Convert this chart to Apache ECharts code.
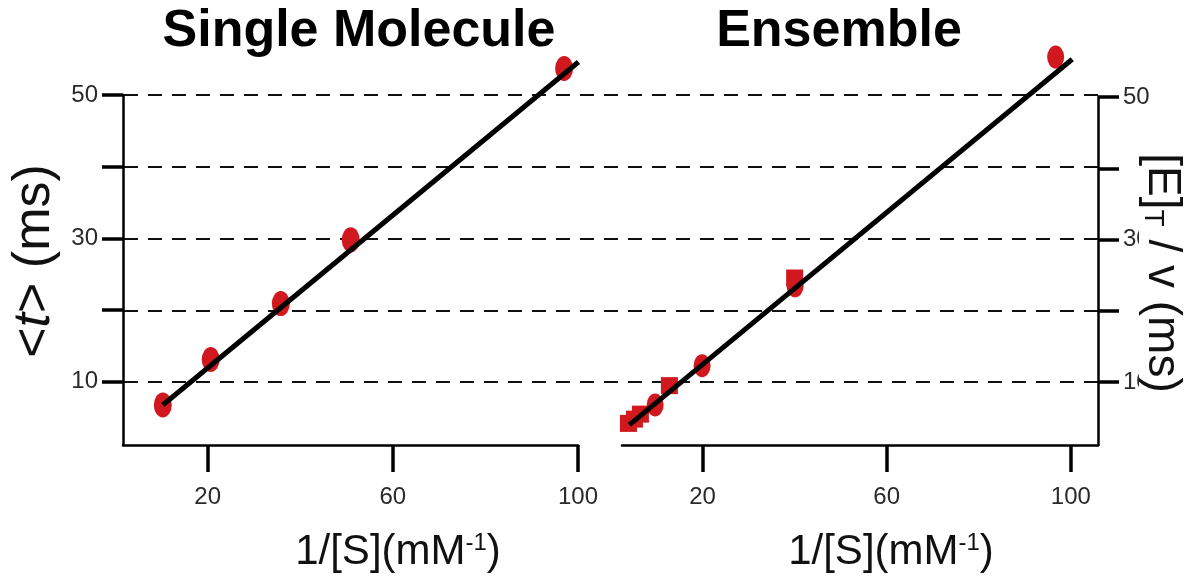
<!DOCTYPE html>
<html>
<head>
<meta charset="utf-8">
<script src="https://cdn.jsdelivr.net/npm/echarts@6/dist/echarts.min.js"></script>
<style>html,body{margin:0;padding:0;background:#fff}#c{width:1186px;height:577px}</style>
</head>
<body>
<div id="c"></div>
<script>
// ---- data ----
const titles = ['Single Molecule', 'Ensemble'];
const xTickValues = [20, 60, 100];
const yTickValues = [10, 20, 30, 40, 50];
const yLabelValues = [10, 30, 50];
// Single molecule: [1/[S], <t>]
const smPoints = [[10.3, 6.75], [20.65, 13.1], [35.8, 20.9], [50.9, 29.8], [97.0, 53.7]];
const smFit = [[10.3, 6.75], [100.1, 54.6]];
// Ensemble
const enCircles = [[9.7, 6.8], [19.9, 12.3], [40.1, 23.5], [96.7, 55.6]];
const enSquares = [[3.9, 4.2], [5.2, 4.8], [6.5, 5.5], [12.8, 9.5], [40.0, 24.6]];
const enFit = [[4.1, 4.0], [100.3, 55.3]];

const FONT = '"Liberation Sans", Arial, sans-serif';
const RED = '#d0181e';

const chart = echarts.init(document.getElementById('c'), null, {renderer: 'canvas'});

function xAxisCfg(gridIndex, min, max) {
  return {
    type: 'value', gridIndex, min, max,
    axisLine: {show: true, onZero: false, lineStyle: {color: '#000', width: 2.5}},
    axisTick: {show: true, customValues: xTickValues, length: 27, lineStyle: {color: '#000', width: 3.5}},
    axisLabel: {show: true, customValues: xTickValues, margin: 40, fontSize: 24, color: '#2a2a2a', fontFamily: FONT},
    splitLine: {show: false}
  };
}
function yAxisCfg(gridIndex, position, extra) {
  return Object.assign({
    type: 'value', gridIndex, position, min: 1.17, max: 50,
    axisLine: {show: true, onZero: false, lineStyle: {color: '#000', width: 2.5}},
    axisTick: {show: true, customValues: yTickValues, length: 21, lineStyle: {color: '#000', width: 3.5}},
    axisLabel: {show: true, customValues: yLabelValues, margin: 25, fontSize: 24, color: '#2a2a2a', fontFamily: FONT},
    splitLine: {show: false}
  }, extra);
}

const option = {
  backgroundColor: '#fff',
  animation: false,
  grid: [
    {left: 123, top: 95, width: 455, height: 350, outerBoundsMode: 'none', containLabel: false},
    {left: 622, top: 97, width: 476, height: 348, outerBoundsMode: 'none', containLabel: false},
    {left: 124, top: 95, width: 974, height: 287, outerBoundsMode: 'none', containLabel: false}
  ],
  xAxis: [
    xAxisCfg(0, 1.7, 100),
    xAxisCfg(1, 2.5, 105.9),
    {type: 'value', gridIndex: 2, min: 0, max: 1, show: false}
  ],
  yAxis: [
    yAxisCfg(0, 'left', {
      name: '<{it|t}> (ms)', nameLocation: 'middle', nameRotate: 90, nameGap: 62,
      nameTextStyle: {fontSize: 52, color: '#111', fontFamily: FONT, padding: [0, 0, 0, 18],
        rich: {it: {fontSize: 52, fontStyle: 'italic', color: '#111', fontFamily: FONT}}}
    }),
    yAxisCfg(1, 'right', {}),
    {type: 'value', gridIndex: 2, min: 10, max: 50, interval: 10,
      axisLine: {show: false}, axisTick: {show: false}, axisLabel: {show: false},
      splitLine: {show: true, lineStyle: {color: '#111', width: 2, type: [14, 10]}}}
  ],
  graphic: [
    {type: 'text', x: 359, y: 32, style: {text: titles[0], font: 'bold 52px ' + FONT, fill: '#000', align: 'center', verticalAlign: 'middle'}},
    {type: 'text', x: 839, y: 32, style: {text: titles[1], font: 'bold 52px ' + FONT, fill: '#000', align: 'center', verticalAlign: 'middle'}},
    {type: 'text', x: 398, y: 552, style: {text: '1/[S](mM{sup|-1})', fill: '#111', fontSize: 42, fontFamily: FONT, align: 'center', verticalAlign: 'middle',
      rich: {sup: {fontSize: 24, fontFamily: FONT, fill: '#111', verticalAlign: 'top'}}}},
    {type: 'text', x: 891, y: 552, style: {text: '1/[S](mM{sup|-1})', fill: '#111', fontSize: 42, fontFamily: FONT, align: 'center', verticalAlign: 'middle',
      rich: {sup: {fontSize: 24, fontFamily: FONT, fill: '#111', verticalAlign: 'top'}}}},
    {type: 'text', x: 1162, y: 273, rotation: -Math.PI / 2, z: 200,
      style: {text: '[E]{sub|T} / v (ms)', fill: '#111', fontSize: 46, fontFamily: FONT, align: 'center', verticalAlign: 'middle',
        backgroundColor: '#fff', padding: [0, 0, 0, 0],
        rich: {sub: {fontSize: 28, fontFamily: FONT, fill: '#111', verticalAlign: 'bottom'}}}}
  ],
  series: [
    {type: 'scatter', xAxisIndex: 0, yAxisIndex: 0, data: smPoints, symbol: 'circle', symbolSize: [18, 25],
      itemStyle: {color: RED, opacity: 1}, clip: false, z: 3},
    {type: 'line', xAxisIndex: 0, yAxisIndex: 0, data: smFit, showSymbol: false, symbol: 'none',
      lineStyle: {color: '#000', width: 5}, clip: false, z: 5},
    {type: 'scatter', xAxisIndex: 1, yAxisIndex: 1, data: enSquares, symbol: 'rect', symbolSize: 17,
      itemStyle: {color: RED, opacity: 1}, clip: false, z: 3},
    {type: 'scatter', xAxisIndex: 1, yAxisIndex: 1, data: enCircles, symbol: 'circle', symbolSize: [17, 23],
      itemStyle: {color: RED, opacity: 1}, clip: false, z: 3},
    {type: 'line', xAxisIndex: 1, yAxisIndex: 1, data: enFit, showSymbol: false, symbol: 'none',
      lineStyle: {color: '#000', width: 5}, clip: false, z: 5}
  ]
};
chart.setOption(option);
</script>
</body>
</html>
